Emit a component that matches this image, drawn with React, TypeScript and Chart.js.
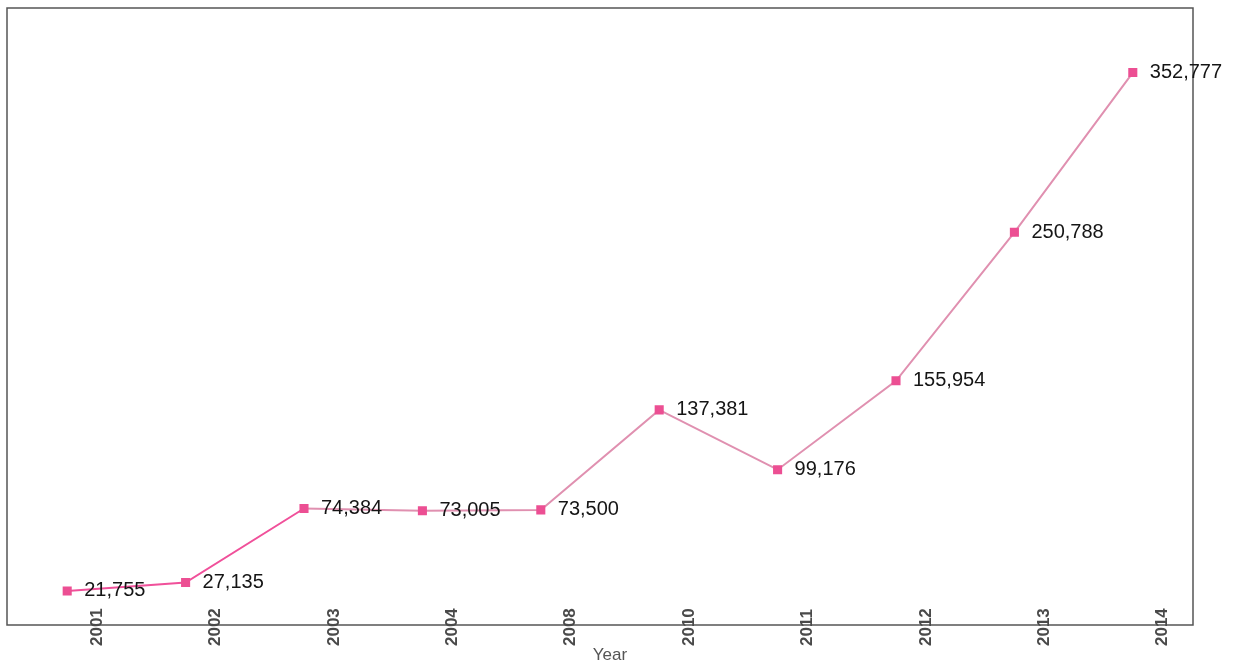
import React, { useEffect, useRef } from "react";
import { Chart, registerables } from "chart.js";

Chart.register(...registerables);

const categories = ["2001", "2002", "2003", "2004", "2008", "2010", "2011", "2012", "2013", "2014"];
const values = [21755, 27135, 74384, 73005, 73500, 137381, 99176, 155954, 250788, 352777];
const xTitle = "Year";

const overlay = {
  id: "overlay",
  afterDatasetsDraw(chart: any) {
    const { ctx, chartArea } = chart;
    const meta = chart.getDatasetMeta(0);
    ctx.save();
    // frame
    ctx.strokeStyle = "#555";
    ctx.lineWidth = 1.5;
    ctx.strokeRect(chartArea.left - 1, chartArea.top, chartArea.right - chartArea.left + 2, chartArea.bottom - chartArea.top);
    // data labels
    ctx.fillStyle = "#151515";
    ctx.font = "20px 'Liberation Sans', Arial, sans-serif";
    ctx.textAlign = "left";
    ctx.textBaseline = "middle";
    meta.data.forEach((pt: any, i: number) => {
      ctx.fillText(values[i].toLocaleString("en-US"), pt.x + 17, pt.y);
    });
    // tick labels
    ctx.fillStyle = "#4a4a4a";
    ctx.font = "bold 17px 'Liberation Sans', Arial, sans-serif";
    meta.data.forEach((pt: any, i: number) => {
      ctx.save();
      ctx.translate(pt.x + 30, 646);
      ctx.rotate(-Math.PI / 2);
      ctx.textAlign = "left";
      ctx.textBaseline = "middle";
      ctx.fillText(categories[i], 0, 0);
      ctx.restore();
    });
    // axis title
    ctx.fillStyle = "#555";
    ctx.font = "17px 'Liberation Sans', Arial, sans-serif";
    ctx.textAlign = "center";
    ctx.textBaseline = "middle";
    ctx.fillText(xTitle, 610, 655);
    ctx.restore();
  },
};

export default function App() {
  const ref = useRef<HTMLCanvasElement>(null);
  useEffect(() => {
    document.body.style.margin = "0";
    const chart = new Chart(ref.current!, {
      type: "line",
      data: {
        labels: categories,
        datasets: [
          {
            data: values,
            borderColor: "#e8609c",
            borderWidth: 2,
            pointStyle: "rect",
            pointRadius: 5,
            pointBackgroundColor: "#ec4f93",
            pointBorderColor: "#ec4f93",
            tension: 0,
            segment: {
              borderColor: (c: any) => (c.p0DataIndex < 2 ? "#f0509a" : "#e090b0"),
            },
          },
        ],
      },
      options: {
        responsive: false,
        animation: false,
        layout: { padding: { left: 8, right: 50, top: 8, bottom: 41 } },
        plugins: { legend: { display: false }, tooltip: { enabled: false }, title: { display: false } },
        scales: {
          x: { type: "category", offset: true, display: false },
          y: { min: 0, max: 394000, display: false },
        },
      },
      plugins: [overlay],
    });
    return () => chart.destroy();
  }, []);
  return <canvas ref={ref} width={1242} height={666} style={{ display: "block" }} />;
}
